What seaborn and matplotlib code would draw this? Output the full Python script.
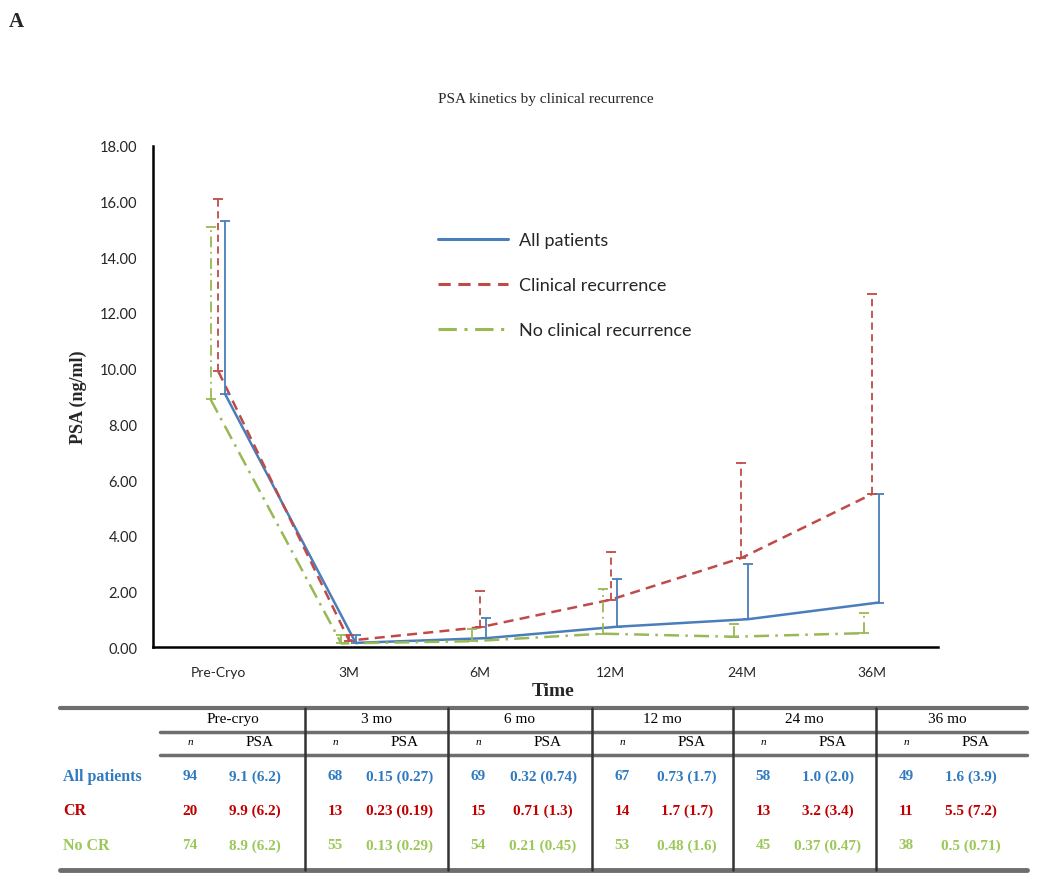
import numpy as np
import pandas as pd
import seaborn as sns
import matplotlib.pyplot as plt
from matplotlib.lines import Line2D

times = ['Pre-Cryo', '3M', '6M', '12M', '24M', '36M']
table_times = ['Pre-cryo', '3 mo', '6 mo', '12 mo', '24 mo', '36 mo']
groups = ['All patients', 'Clinical recurrence', 'No clinical recurrence']
row_labels = ['All patients', 'CR', 'No CR']

all_n = [94, 68, 69, 67, 58, 49]
all_mean = [9.1, 0.15, 0.32, 0.73, 1.0, 1.6]
all_sd = [6.2, 0.27, 0.74, 1.7, 2.0, 3.9]
cr_n = [20, 13, 15, 14, 13, 11]
cr_mean = [9.9, 0.23, 0.71, 1.7, 3.2, 5.5]
cr_sd = [6.2, 0.19, 1.3, 1.7, 3.4, 7.2]
nocr_n = [74, 55, 54, 53, 45, 38]
nocr_mean = [8.9, 0.13, 0.21, 0.48, 0.37, 0.5]
nocr_sd = [6.2, 0.29, 0.45, 1.6, 0.47, 0.71]

ns = [all_n, cr_n, nocr_n]
means = [all_mean, cr_mean, nocr_mean]
sds = [all_sd, cr_sd, nocr_sd]

line_colors = ['#4a7ebb', '#be4b48', '#98b954']
text_colors = ['#2f7ac0', '#c00000', '#9cc85a']
shift = [0.05, 0.0, -0.06]

rows = []
for g, m, s, d in zip(groups, means, sds, shift):
    for i, t in enumerate(times):
        rows.append({'group': g, 'pos': i + d, 'psa': m[i], 'sd': s[i]})
df = pd.DataFrame(rows)

sns.set_style('white')
fig = plt.figure(figsize=(10.5, 8.87), dpi=100)
ax = fig.add_axes([0.1457, 0.2694, 0.7473, 0.5649])

sns.lineplot(data=df, x='pos', y='psa', hue='group', style='group',
             palette=dict(zip(groups, line_colors)),
             dashes={groups[0]: '', groups[1]: (4, 2.5), groups[2]: (6, 2.5, 1, 2.5)},
             linewidth=1.8, ax=ax, legend=False)

styles = ['-', (0, (4, 2.5)), (0, (6, 2.5, 1, 2.5))]
for g, c, ls in zip(groups, line_colors, styles):
    sub = df[df.group == g]
    eb = ax.errorbar(sub.pos, sub.psa, yerr=[np.zeros(len(sub)), sub.sd],
                     fmt='none', ecolor=c, elinewidth=1.3, capsize=3.5, capthick=1.3)
    eb[2][0].set_linestyle(ls)

ax.set_xlim(-0.5, 5.5)
ax.set_ylim(0, 18)
ax.set_yticks(np.arange(0, 19, 2))
ax.set_yticklabels([f'{v:.2f}' for v in np.arange(0, 19, 2)], fontsize=10.5, family='Lato')
ax.set_xticks(np.arange(-0.5, 6, 1))
ax.set_xticklabels([])
ax.set_xticks(range(len(times)), minor=True)
ax.set_xticklabels(times, minor=True, fontsize=10, family='Lato')
ax.tick_params(axis='x', which='minor', length=0, pad=14)
ax.tick_params(axis='x', which='major', direction='out', length=6, width=1.5, color='black')
ax.tick_params(axis='y', direction='out', length=5, width=1.5, color='black', pad=6)
for sp in ['top', 'right']:
    ax.spines[sp].set_visible(False)
for sp in ['left', 'bottom']:
    ax.spines[sp].set_color('black')
    ax.spines[sp].set_linewidth(1.8)
ax.set_xlabel('Time', fontsize=14, fontweight='bold', family='Liberation Serif')
ax.set_ylabel('PSA (ng/ml)', fontsize=13, fontweight='bold', family='Liberation Serif', labelpad=0)
ax.xaxis.set_label_coords(0.51, -0.07)
ax.yaxis.set_label_coords(-0.084, 0.5)
ax.set_title('PSA kinetics by clinical recurrence', fontsize=11, family='Liberation Serif', pad=32)

handles = [Line2D([0], [0], color=c, lw=2.2, linestyle=ls) for c, ls in zip(line_colors, styles)]
ax.legend(handles, groups, loc='upper left', bbox_to_anchor=(0.342, 0.86), frameon=False,
          prop={'family': 'Lato', 'size': 13}, handlelength=3.9, handletextpad=0.6,
          labelspacing=1.6)

fig.text(0.008, 0.975, 'A', fontsize=15, fontweight='bold', family='Liberation Serif', va='center')

# table
def hline(y, x0, x1, lw, col='#6e6e6e'):
    fig.add_artist(Line2D([x0 / 1050, x1 / 1050], [1 - y / 887, 1 - y / 887], color=col, lw=lw))

def vline(x, y0, y1, lw=1.8, col='#333333'):
    fig.add_artist(Line2D([x / 1050, x / 1050], [1 - y0 / 887, 1 - y1 / 887], color=col, lw=lw))

hline(709, 60, 1027, 3)
hline(733, 160, 1027, 2.5)
hline(756, 160, 1027, 2.5)
hline(871, 60, 1027, 3.5)
bounds = [160, 305, 448, 592, 733, 876, 1018]
for x in bounds[1:-1]:
    vline(x, 709, 871)

def tt(x, y, s, color='black', **kw):
    fig.text(x / 1050, 1 - y / 887, s, color=color, family='Liberation Serif',
             ha='center', va='center', **kw)

for k, name in enumerate(table_times):
    x0, x1 = bounds[k], bounds[k + 1]
    tt((x0 + x1) / 2, 720, name, fontsize=11)
    tt(x0 + 30, 743, 'n', fontsize=8, style='italic')
    tt(x0 + 100, 743, 'PSA', fontsize=11)
    for r in range(3):
        y = 777 + r * 34.5
        tt(x0 + 30, y, str(ns[r][k]), text_colors[r], fontsize=11, fontweight='bold')
        tt(x0 + 95, y, f'{means[r][k]} ({sds[r][k]})', text_colors[r], fontsize=11, fontweight='bold')

for r, lab in enumerate(row_labels):
    fig.text(63 / 1050, 1 - (777 + r * 34.5) / 887, lab, color=text_colors[r],
             family='Liberation Serif', fontsize=11.5, fontweight='bold', va='center')

fig.savefig('out.png', dpi=100)
